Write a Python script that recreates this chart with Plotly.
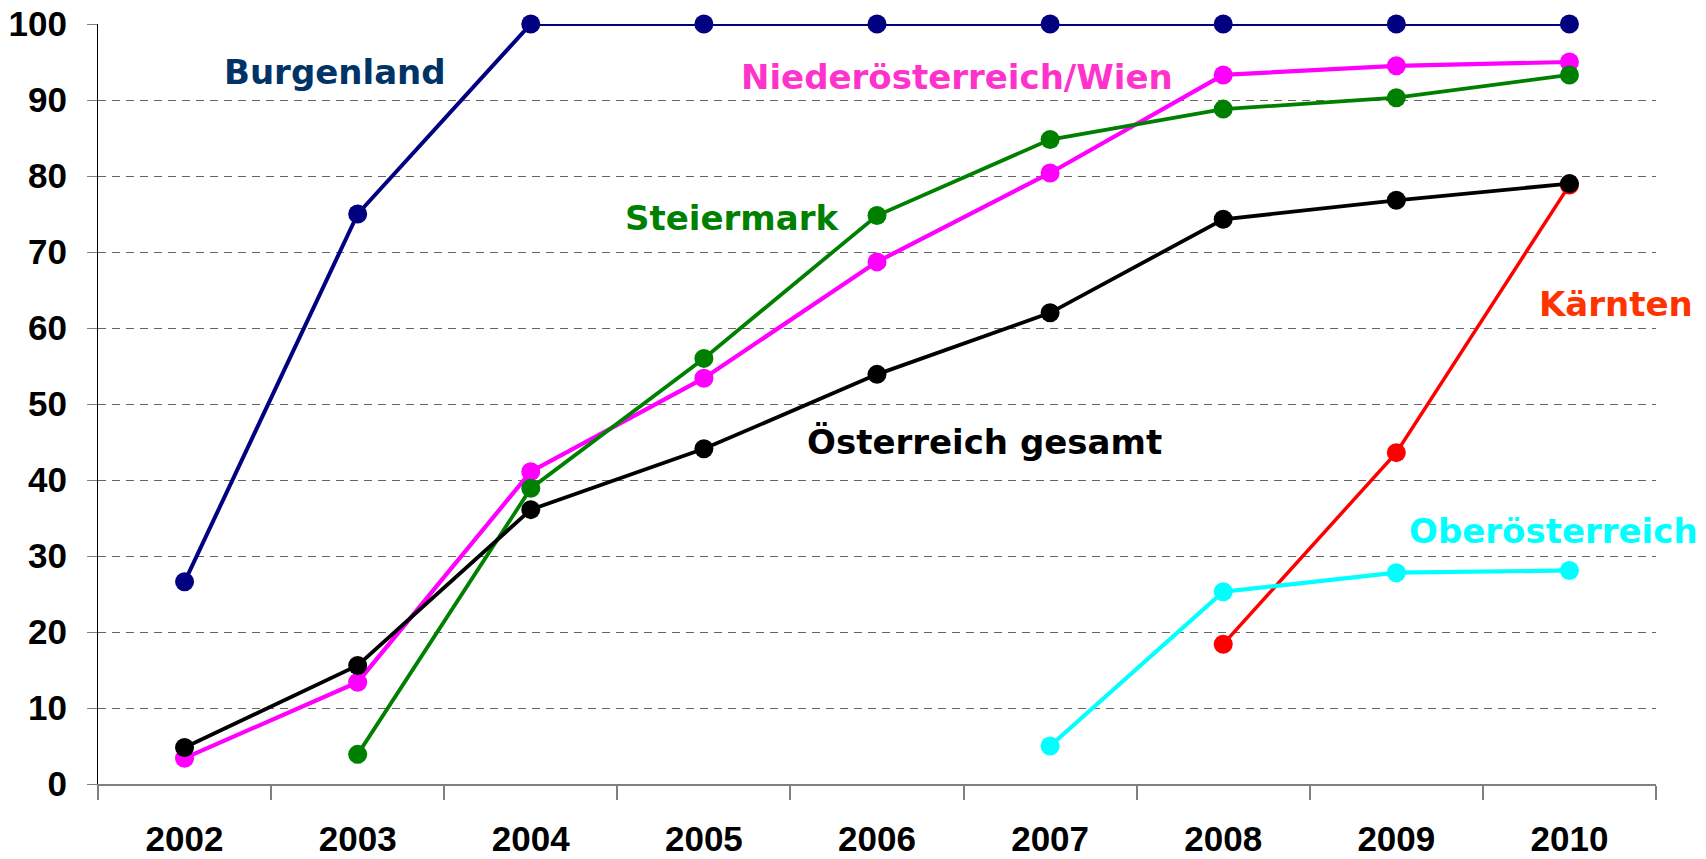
import plotly.graph_objects as go

years = ["2002", "2003", "2004", "2005", "2006", "2007", "2008", "2009", "2010"]

burgenland = [26.6, 75.0, 100, 100, 100, 100, 100, 100, 100]
noe_wien = [3.4, 13.4, 41.1, 53.4, 68.7, 80.4, 93.3, 94.5, 95.0]
steiermark = [None, 3.9, 38.9, 56.0, 74.8, 84.8, 88.8, 90.3, 93.3]
oesterreich = [4.8, 15.6, 36.1, 44.1, 53.9, 62.0, 74.3, 76.8, 79.0]
kaernten = [None, None, None, None, None, None, 18.4, 43.6, 78.8]
oberoesterreich = [None, None, None, None, None, 5.0, 25.3, 27.8, 28.1]

series = [
    ("Burgenland", burgenland, "#000080", 4),
    ("Niederösterreich/Wien", noe_wien, "#FF00FF", 4.2),
    ("Steiermark", steiermark, "#008000", 3.8),
    ("Kärnten", kaernten, "#FF0000", 3.5),
    ("Oberösterreich", oberoesterreich, "#00FFFF", 4.2),
    ("Österreich gesamt", oesterreich, "#000000", 3.8),
]

label_texts = ["Burgenland", "Niederösterreich/Wien", "Steiermark", "Österreich gesamt", "Kärnten", "Oberösterreich"]
label_colors = ["#003366", "#FF33CC", "#008000", "#000000", "#FF3300", "#00FFFF"]
label_x = [0.87, 4.46, 3.16, 4.62, 8.27, 7.91]
label_y = [93.7, 93.0, 74.5, 45.0, 63.2, 33.3]

fig = go.Figure()
for name, values, color, width in series:
    fig.add_trace(
        go.Scatter(
            x=years,
            y=values,
            mode="lines+markers",
            name=name,
            line=dict(color=color, width=width),
            marker=dict(color=color, size=19),
            cliponaxis=False,
        )
    )

for text, color, x, y in zip(label_texts, label_colors, label_x, label_y):
    fig.add_annotation(
        x=x,
        y=y,
        xref="x",
        yref="y",
        text=f"<b>{text}</b>",
        showarrow=False,
        font=dict(family="DejaVu Sans", size=34, color=color),
    )

tick_font = dict(family="Liberation Sans, Arial", size=35, color="#000000")
fig.update_layout(
    width=1706,
    height=859,
    showlegend=False,
    plot_bgcolor="#FFFFFF",
    paper_bgcolor="#FFFFFF",
    margin=dict(l=98, r=50, t=24, b=75),
    font=tick_font,
)
fig.update_xaxes(
    type="category",
    range=[-0.5, 8.5],
    automargin=False,
    showgrid=False,
    showline=True,
    linecolor="#808080",
    linewidth=2,
    ticks="outside",
    tickson="boundaries",
    ticklen=14,
    tickcolor="#808080",
    tickwidth=1.5,
    tickfont=tick_font,
    tickprefix="<b>",
    ticksuffix="</b>",
    ticklabelstandoff=23,
)
fig.update_yaxes(
    range=[0, 100],
    dtick=10,
    automargin=False,
    ticklabeloverflow="allow",
    showgrid=True,
    gridcolor="#666666",
    griddash="8px,6px",
    gridwidth=1.2,
    zeroline=False,
    showline=True,
    linecolor="#000000",
    linewidth=1.2,
    ticks="outside",
    ticklen=10,
    tickcolor="#808080",
    tickwidth=1.2,
    tickfont=tick_font,
    tickprefix="<b>",
    ticksuffix="</b>",
    ticklabelstandoff=13,
)

# drop the default 8px body margin so the figure fills the window exactly
fig.write_html(
    "out.html",
    config={"displayModeBar": False},
    post_script="document.body.style.margin = '0';",
)
